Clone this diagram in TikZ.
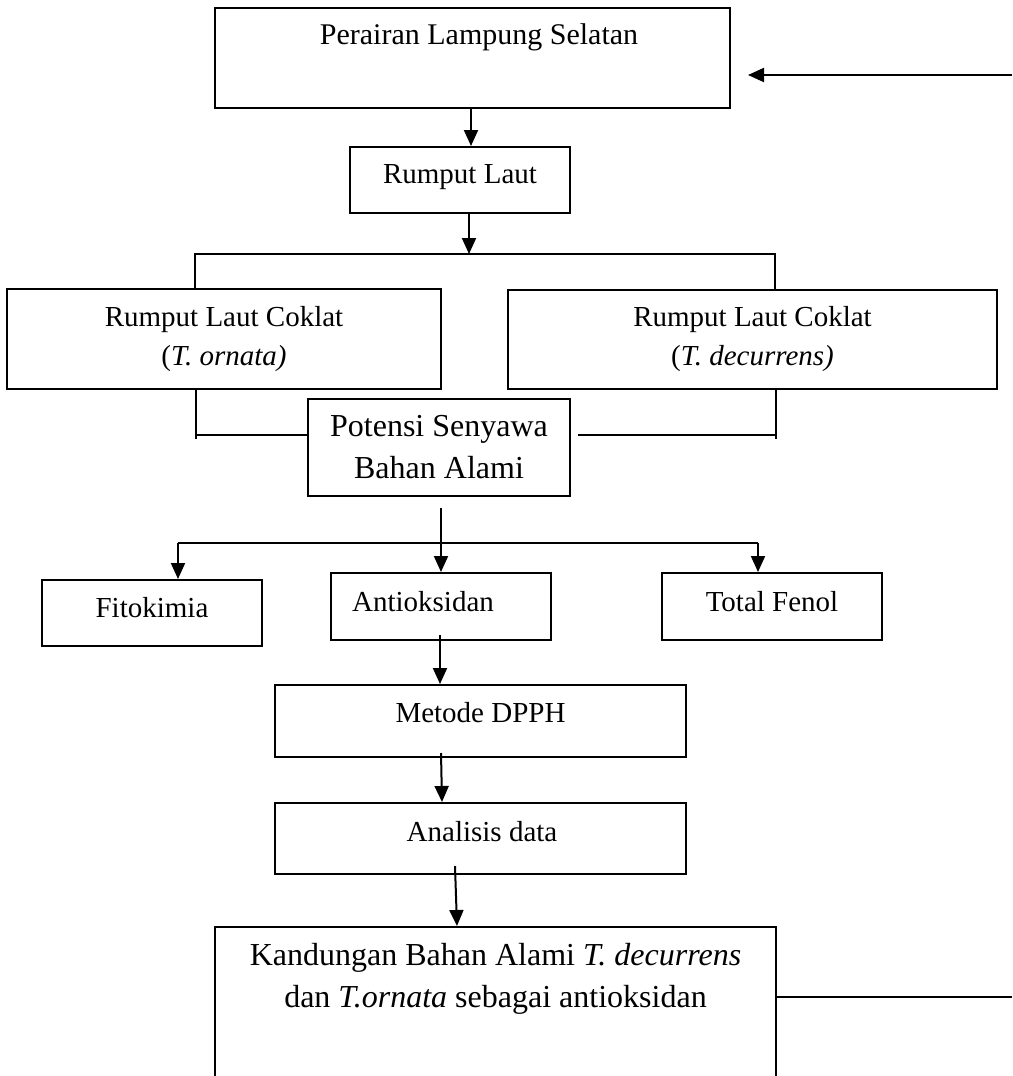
\documentclass[tikz,border=0pt]{standalone}
\usepackage{fontspec}
\setmainfont{Liberation Serif}
\usetikzlibrary{arrows.meta}
\begin{document}
\begin{tikzpicture}[x=1pt,y=-1pt,
  box/.style={draw,line width=2pt,inner sep=0pt},
  txt/.style={inner sep=0pt,align=center,font=\fontsize{29}{39}\selectfont},
  bigtxt/.style={inner sep=0pt,align=center,font=\fontsize{32}{42}\selectfont},
  ln/.style={line width=1.8pt},
  arr/.style={line width=2pt,-{Triangle[length=16pt,width=14pt]}}]
\useasboundingbox (0,0) rectangle (1012,1076);
% boxes
\node[box,minimum width=515pt,minimum height=100pt] (b1) at (472.5,58) {};
\node[txt,font=\fontsize{30}{39}\selectfont] (t1) at (479,37) {Perairan Lampung Selatan};
\node[box,minimum width=220pt,minimum height=66pt] (rl) at (460,180) {};
\node[txt] (trl) at (460,177) {Rumput Laut};
\node[box,minimum width=434pt,minimum height=100pt,txt] (lc) at (224,339) {Rumput Laut Coklat\\(\textit{T. ornata)}};
\node[box,minimum width=489pt,minimum height=99pt,txt] (rc) at (752.5,339.5) {Rumput Laut Coklat\\(\textit{T. decurrens)}};
\node[box,minimum width=262pt,minimum height=97pt,bigtxt] (pt) at (439,447.5) {Potensi Senyawa\\Bahan Alami};
\node[box,minimum width=220pt,minimum height=66pt] (fk) at (152,613) {};
\node[txt] (tfk) at (152,608) {Fitokimia};
\node[box,minimum width=220pt,minimum height=67pt] (ao) at (441,606.5) {};
\node[txt] (tao) at (423,602) {Antioksidan};
\node[box,minimum width=220pt,minimum height=67pt] (tf) at (772,606.5) {};
\node[txt] (ttf) at (772,602) {Total Fenol};
\node[box,minimum width=411pt,minimum height=72pt] (md) at (480.5,721) {};
\node[txt] (tmd) at (480.5,713) {Metode DPPH};
\node[box,minimum width=411pt,minimum height=71pt] (ad) at (480.5,838.5) {};
\node[txt] (tad) at (482,832) {Analisis data};
\node[box,minimum width=561pt,minimum height=200pt] (kd) at (495.5,1027) {};
\node[bigtxt] (tkd) at (495.5,979) {Kandungan Bahan Alami \textit{T. decurrens}\\dan \textit{T.ornata} sebagai antioksidan};
% free ends
\coordinate (rin) at (1012,75);
\coordinate (rout) at (1012,997);
\coordinate (tip1) at (748,75);
\coordinate (h1l) at (195,254);
\coordinate (h1r) at (775,254);
\coordinate (ll) at (196,439);
\coordinate (llh) at (196,435);
\coordinate (rr) at (776,439);
\coordinate (rrh) at (776,435);
\coordinate (rrs) at (578,435);
\coordinate (ps) at (441,508);
\coordinate (h2l) at (178,543);
\coordinate (h2r) at (758,543);
% connectors
\draw[arr] (rin) -- (tip1);
\draw[arr] (b1.south -| 471,0) -- (rl.north -| 471,0);
\draw[arr] (rl.south -| 469,0) -- (469,254);
\draw[ln] (h1l |- lc.north) -- (h1l) -- (h1r) -- (h1r |- rc.north);
\draw[ln] (lc.south -| ll) -- (ll);
\draw[ln] (llh) -- (pt.west |- llh);
\draw[ln] (rc.south -| rr) -- (rr);
\draw[ln] (rrs) -- (rrh);
\draw[arr] (ps) -- (ao.north -| ps);
\draw[ln] (h2l) -- (h2r);
\draw[arr] (h2l) -- (fk.north -| h2l);
\draw[arr] (h2r) -- (tf.north -| h2r);
\draw[arr] (440,635) -- (md.north -| 440,0);
\draw[arr] (441,753) -- (ad.north -| 442,0);
\draw[arr] (455,866) -- (kd.north -| 457,0);
\draw[ln] (kd.east |- rout) -- (rout);
\end{tikzpicture}
\end{document}
